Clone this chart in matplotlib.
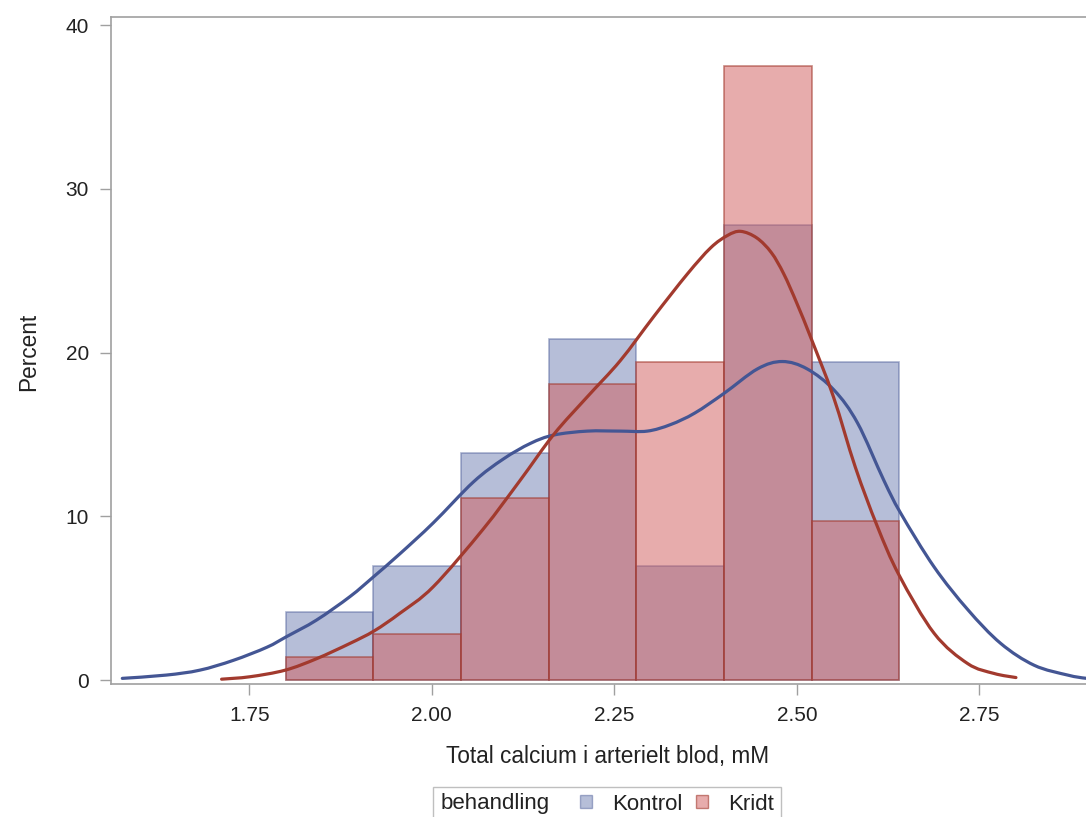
import numpy as np
import matplotlib.pyplot as plt
from matplotlib.patches import Patch, PathPatch
from matplotlib.path import Path
from matplotlib.offsetbox import HPacker

plt.rcParams['font.family'] = ['Liberation Sans', 'DejaVu Sans']

# histogram bins (mM) and percent per group
bin_edges = [1.80, 1.92, 2.04, 2.16, 2.28, 2.40, 2.52, 2.64]
kontrol_pct = [4.17, 6.94, 13.89, 20.83, 6.94, 27.78, 19.44]
kridt_pct = [1.39, 2.78, 11.11, 18.06, 19.44, 37.50, 9.72]

# kernel density curves
kontrol_x = [1.576, 1.636, 1.682, 1.728, 1.774, 1.801, 1.842, 1.888, 1.920, 1.956,
             2.002, 2.057, 2.098, 2.135, 2.167, 2.213, 2.258, 2.295, 2.327,
             2.360, 2.400, 2.446, 2.480, 2.514, 2.551, 2.583, 2.619, 2.642, 2.688,
             2.734, 2.779, 2.825, 2.871, 2.897, 2.920]
kontrol_y = [0.1, 0.3, 0.6, 1.2, 2.0, 2.65, 3.66, 5.1, 6.3, 7.7,
             9.6, 12.1, 13.5, 14.45, 14.96, 15.2, 15.2, 15.2, 15.6,
             16.3, 17.5, 19.0, 19.45, 19.0, 17.7, 15.7, 12.2, 10.2, 6.9,
             4.3, 2.24, 0.9, 0.3, 0.1, 0.05]
kridt_x = [1.712, 1.751, 1.799, 1.842, 1.888, 1.921, 1.956, 2.002, 2.070,
           2.121, 2.167, 2.213, 2.258, 2.304, 2.350, 2.382, 2.405, 2.423, 2.445,
           2.465, 2.482, 2.500, 2.520, 2.550, 2.580, 2.610, 2.640, 2.688, 2.734,
           2.770, 2.800]
kridt_y = [0.05, 0.2, 0.6, 1.3, 2.24, 3.0, 4.07, 5.7, 9.2,
           12.2, 15.0, 17.3, 19.5, 22.2, 24.8, 26.4, 27.15, 27.4, 27.0,
           26.1, 24.8, 23.0, 20.8, 17.3, 13.0, 9.4, 6.4, 2.85, 1.0,
           0.4, 0.15]

groups = ['Kontrol', 'Kridt']
fill_cols = [(0.435, 0.494, 0.702, 0.5), (0.816, 0.357, 0.357, 0.5)]
edge_cols = [(0.267, 0.337, 0.580, 0.45), (0.635, 0.227, 0.180, 0.6)]
line_cols = ['#445694', '#A23A2E']
txt = '#222222'
grey = '#A0A0A0'


def smooth_path(xs, ys):
    # Catmull-Rom through the read points, drawn as cubic Bezier segments
    p = np.column_stack([xs, ys])
    p = np.vstack([p[0], p, p[-1]])
    verts = [p[1]]
    codes = [Path.MOVETO]
    for i in range(1, len(p) - 2):
        c1 = p[i] + (p[i + 1] - p[i - 1]) / 6
        c2 = p[i + 1] - (p[i + 2] - p[i]) / 6
        verts += [c1, c2, p[i + 1]]
        codes += [Path.CURVE4] * 3
    return Path(verts, codes)


fig = plt.figure(figsize=(10.86, 8.17), dpi=100)
W, H = 1086, 817
ax = fig.add_axes([111 / W, 1 - 684 / H, (1105 - 111) / W, (684 - 17) / H])

left = bin_edges[:-1]
widths = np.diff(bin_edges)
ax.bar(left, kontrol_pct, width=widths, align='edge',
       facecolor=fill_cols[0], edgecolor=edge_cols[0], linewidth=1.2)
ax.bar(left, kridt_pct, width=widths, align='edge',
       facecolor=fill_cols[1], edgecolor=edge_cols[1], linewidth=1.2)

for xs, ys, c in [(kontrol_x, kontrol_y, line_cols[0]), (kridt_x, kridt_y, line_cols[1])]:
    ax.add_patch(PathPatch(smooth_path(xs, ys), fill=False, edgecolor=c,
                           lw=2.3, capstyle='round', joinstyle='round'))

ax.set_xlim(1.5605, 2.922)
ax.set_ylim(-0.244, 40.49)
ax.set_xticks([1.75, 2.00, 2.25, 2.50, 2.75])
ax.set_xticklabels(['1.75', '2.00', '2.25', '2.50', '2.75'])
ax.set_yticks([0, 10, 20, 30, 40])

for s in ax.spines.values():
    s.set_color(grey)
    s.set_linewidth(1.2)
ax.tick_params(axis='both', colors=grey, labelcolor=txt, labelsize=15,
               length=8, width=1.0, pad=8)

fig.text(608 / W, 1 - 757 / H, 'Total calcium i arterielt blod, mM',
         ha='center', va='center', fontsize=16.3, color=txt)
fig.text(29 / W, 1 - 352 / H, 'Percent', rotation=90,
         ha='center', va='center', fontsize=16.3, color=txt)

handles = [Patch(facecolor=fill_cols[i], edgecolor=edge_cols[i], linewidth=1.0)
           for i in range(2)]
leg = fig.legend(handles, groups, ncol=2, title='behandling',
                 loc='center', bbox_to_anchor=(607 / W, 1 - 804 / H),
                 fontsize=16, title_fontsize=16, frameon=True, fancybox=False,
                 handlelength=0.55, handleheight=0.55, handletextpad=0.9,
                 columnspacing=0.6, borderpad=0.3, labelcolor=txt)
leg.get_frame().set_edgecolor('#B0B0B0')
leg.get_frame().set_linewidth(1.0)
leg.get_title().set_color(txt)

# put the legend title left of the entries, SAS style
vbox = leg._legend_box
title_box, entries = vbox.get_children()
hbox = HPacker(pad=0, sep=22, align='center', children=[title_box, entries])
hbox.set_figure(fig)
vbox._children = [hbox]

fig.savefig('out.png', dpi=100)
